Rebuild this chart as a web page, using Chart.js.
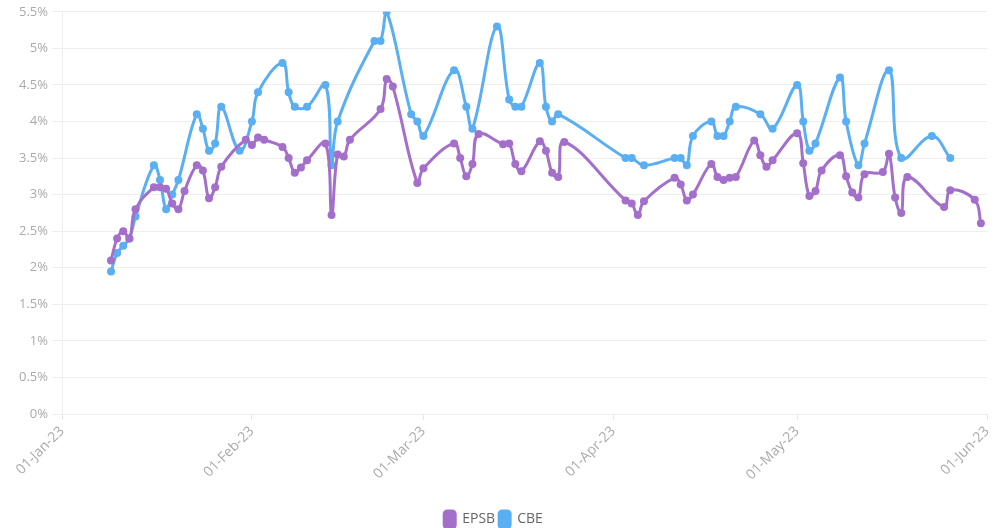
<!DOCTYPE html>
<html lang="en">
<head>
  <meta charset="UTF-8" />
  <title>EPSB vs CBE</title>
  <style>
    html, body { margin: 0; padding: 0; background: #fff; }
    #wrap { width: 994px; height: 528px; position: relative; }
  </style>
</head>
<body>
  <div id="wrap"><canvas id="chart"></canvas></div>
  <script src="https://cdn.jsdelivr.net/npm/chart.js"></script>
  <script>
    const epsbDates = ['2023-01-09','2023-01-10','2023-01-11','2023-01-12','2023-01-13','2023-01-16','2023-01-17','2023-01-18','2023-01-19','2023-01-20',
      '2023-01-21','2023-01-23','2023-01-24','2023-01-25','2023-01-26','2023-01-27','2023-01-31','2023-02-01','2023-02-02','2023-02-03',
      '2023-02-06','2023-02-07','2023-02-08','2023-02-09','2023-02-10','2023-02-13','2023-02-14','2023-02-15','2023-02-16','2023-02-17',
      '2023-02-22','2023-02-23','2023-02-24','2023-02-28','2023-03-01','2023-03-06','2023-03-07','2023-03-08','2023-03-09','2023-03-10',
      '2023-03-14','2023-03-15','2023-03-16','2023-03-17','2023-03-20','2023-03-21','2023-03-22','2023-03-23','2023-03-24','2023-04-03',
      '2023-04-04','2023-04-05','2023-04-06','2023-04-11','2023-04-12','2023-04-13','2023-04-14','2023-04-17','2023-04-18','2023-04-19',
      '2023-04-20','2023-04-21','2023-04-24','2023-04-25','2023-04-26','2023-04-27','2023-05-01','2023-05-02','2023-05-03','2023-05-04',
      '2023-05-05','2023-05-08','2023-05-09','2023-05-10','2023-05-11','2023-05-12','2023-05-15','2023-05-16','2023-05-17','2023-05-18',
      '2023-05-19','2023-05-25','2023-05-26','2023-05-30','2023-05-31'];
    const epsbValues = [2.1, 2.4, 2.5, 2.4, 2.8, 3.1, 3.1, 3.08, 2.88, 2.8,
      3.05, 3.4, 3.33, 2.95, 3.1, 3.38, 3.75, 3.68, 3.78, 3.75,
      3.65, 3.5, 3.3, 3.37, 3.47, 3.7, 2.72, 3.55, 3.52, 3.75,
      4.17, 4.58, 4.48, 3.16, 3.36, 3.7, 3.5, 3.25, 3.42, 3.83,
      3.69, 3.7, 3.42, 3.32, 3.73, 3.6, 3.3, 3.24, 3.72, 2.92,
      2.88, 2.72, 2.91, 3.23, 3.14, 2.92, 3.0, 3.42, 3.24, 3.2,
      3.23, 3.24, 3.74, 3.54, 3.38, 3.47, 3.84, 3.43, 2.98, 3.05,
      3.33, 3.54, 3.25, 3.03, 2.96, 3.28, 3.31, 3.56, 2.96, 2.75,
      3.24, 2.83, 3.06, 2.93, 2.61];

    const cbeDates = ['2023-01-09','2023-01-10','2023-01-11','2023-01-12','2023-01-13','2023-01-16','2023-01-17','2023-01-18','2023-01-19','2023-01-20',
      '2023-01-23','2023-01-24','2023-01-25','2023-01-26','2023-01-27','2023-01-30','2023-02-01','2023-02-02','2023-02-06','2023-02-07',
      '2023-02-08','2023-02-10','2023-02-13','2023-02-14','2023-02-15','2023-02-21','2023-02-22','2023-02-23','2023-02-27','2023-02-28',
      '2023-03-01','2023-03-06','2023-03-08','2023-03-09','2023-03-13','2023-03-15','2023-03-16','2023-03-17','2023-03-20','2023-03-21',
      '2023-03-22','2023-03-23','2023-04-03','2023-04-04','2023-04-06','2023-04-11','2023-04-12','2023-04-13','2023-04-14','2023-04-17',
      '2023-04-18','2023-04-19','2023-04-20','2023-04-21','2023-04-25','2023-04-27','2023-05-01','2023-05-02','2023-05-03','2023-05-04',
      '2023-05-08','2023-05-09','2023-05-11','2023-05-12','2023-05-16','2023-05-18','2023-05-23','2023-05-26'];
    const cbeValues = [1.95, 2.2, 2.3, 2.4, 2.7, 3.4, 3.2, 2.8, 3.0, 3.2,
      4.1, 3.9, 3.6, 3.7, 4.2, 3.6, 4.0, 4.4, 4.8, 4.4,
      4.2, 4.2, 4.5, 3.4, 4.0, 5.1, 5.1, 5.5, 4.1, 4.0,
      3.8, 4.7, 4.2, 3.9, 5.3, 4.3, 4.2, 4.2, 4.8, 4.2,
      4.0, 4.1, 3.5, 3.5, 3.4, 3.5, 3.5, 3.4, 3.8, 4.0,
      3.8, 3.8, 4.0, 4.2, 4.1, 3.9, 4.5, 4.0, 3.6, 3.7,
      4.6, 4.0, 3.4, 3.7, 4.7, 3.5, 3.8, 3.5];

    const monthTicks = ['2023-01-01','2023-02-01','2023-03-01','2023-04-01','2023-05-01','2023-06-01'];
    const monthNames = ['Jan','Feb','Mar','Apr','May','Jun','Jul','Aug','Sep','Oct','Nov','Dec'];

    function toTime(s) {
      const p = s.split('-').map(Number);
      return Date.UTC(p[0], p[1] - 1, p[2]);
    }
    function fmtDate(t) {
      const d = new Date(t);
      const dd = String(d.getUTCDate()).padStart(2, '0');
      return dd + '-' + monthNames[d.getUTCMonth()] + '-' + String(d.getUTCFullYear()).slice(2);
    }
    function points(dates, values) {
      return dates.map((d, i) => ({ x: toTime(d), y: values[i] }));
    }

    const purple = '#a46fcb';
    const blue = '#5aaef2';

    Chart.defaults.font.family = "'Open Sans', sans-serif";
    Chart.defaults.font.size = 13;
    Chart.defaults.color = '#aaa';

    new Chart(document.getElementById('chart'), {
      type: 'line',
      data: {
        datasets: [{
          label: 'EPSB',
          data: points(epsbDates, epsbValues),
          borderColor: purple,
          backgroundColor: purple,
          borderWidth: 3,
          pointRadius: 4,
          pointBorderWidth: 0,
          tension: 0.4
        }, {
          label: 'CBE',
          data: points(cbeDates, cbeValues),
          borderColor: blue,
          backgroundColor: blue,
          borderWidth: 3,
          pointRadius: 4,
          pointBorderWidth: 0,
          tension: 0.4
        }]
      },
      options: {
        responsive: true,
        maintainAspectRatio: false,
        animation: false,
        layout: { padding: { top: 6, right: 7, left: 0, bottom: -10 } },
        plugins: {
          legend: {
            position: 'bottom',
            labels: {
              color: '#666',
              boxWidth: 11,
              boxHeight: 17,
              borderRadius: 3,
              useBorderRadius: true,
              padding: 4,
              font: { size: 14 }
            }
          },
          tooltip: { enabled: false }
        },
        scales: {
          x: {
            type: 'linear',
            min: toTime(monthTicks[0]),
            max: toTime(monthTicks[monthTicks.length - 1]),
            afterBuildTicks: (axis) => { axis.ticks = monthTicks.map(m => ({ value: toTime(m) })); },
            afterFit: (axis) => { axis.height = 93; axis.paddingRight = 0; },
            ticks: {
              autoSkip: false,
              maxRotation: 45,
              minRotation: 45,
              color: '#aaa',
              font: { size: 14 },
              callback: (v) => fmtDate(v)
            },
            grid: { drawOnChartArea: false, drawTicks: true, tickLength: 6, color: '#e6e6e6' },
            border: { display: false }
          },
          y: {
            min: 0,
            max: 5.5,
            afterFit: (axis) => { axis.width = 62; },
            ticks: {
              stepSize: 0.5,
              color: '#aaa',
              padding: 4,
              callback: (v) => v + '%'
            },
            grid: { color: '#eeeeee', tickLength: 10 },
            border: { display: true, color: '#eeeeee' }
          }
        }
      }
    });
  </script>
</body>
</html>
